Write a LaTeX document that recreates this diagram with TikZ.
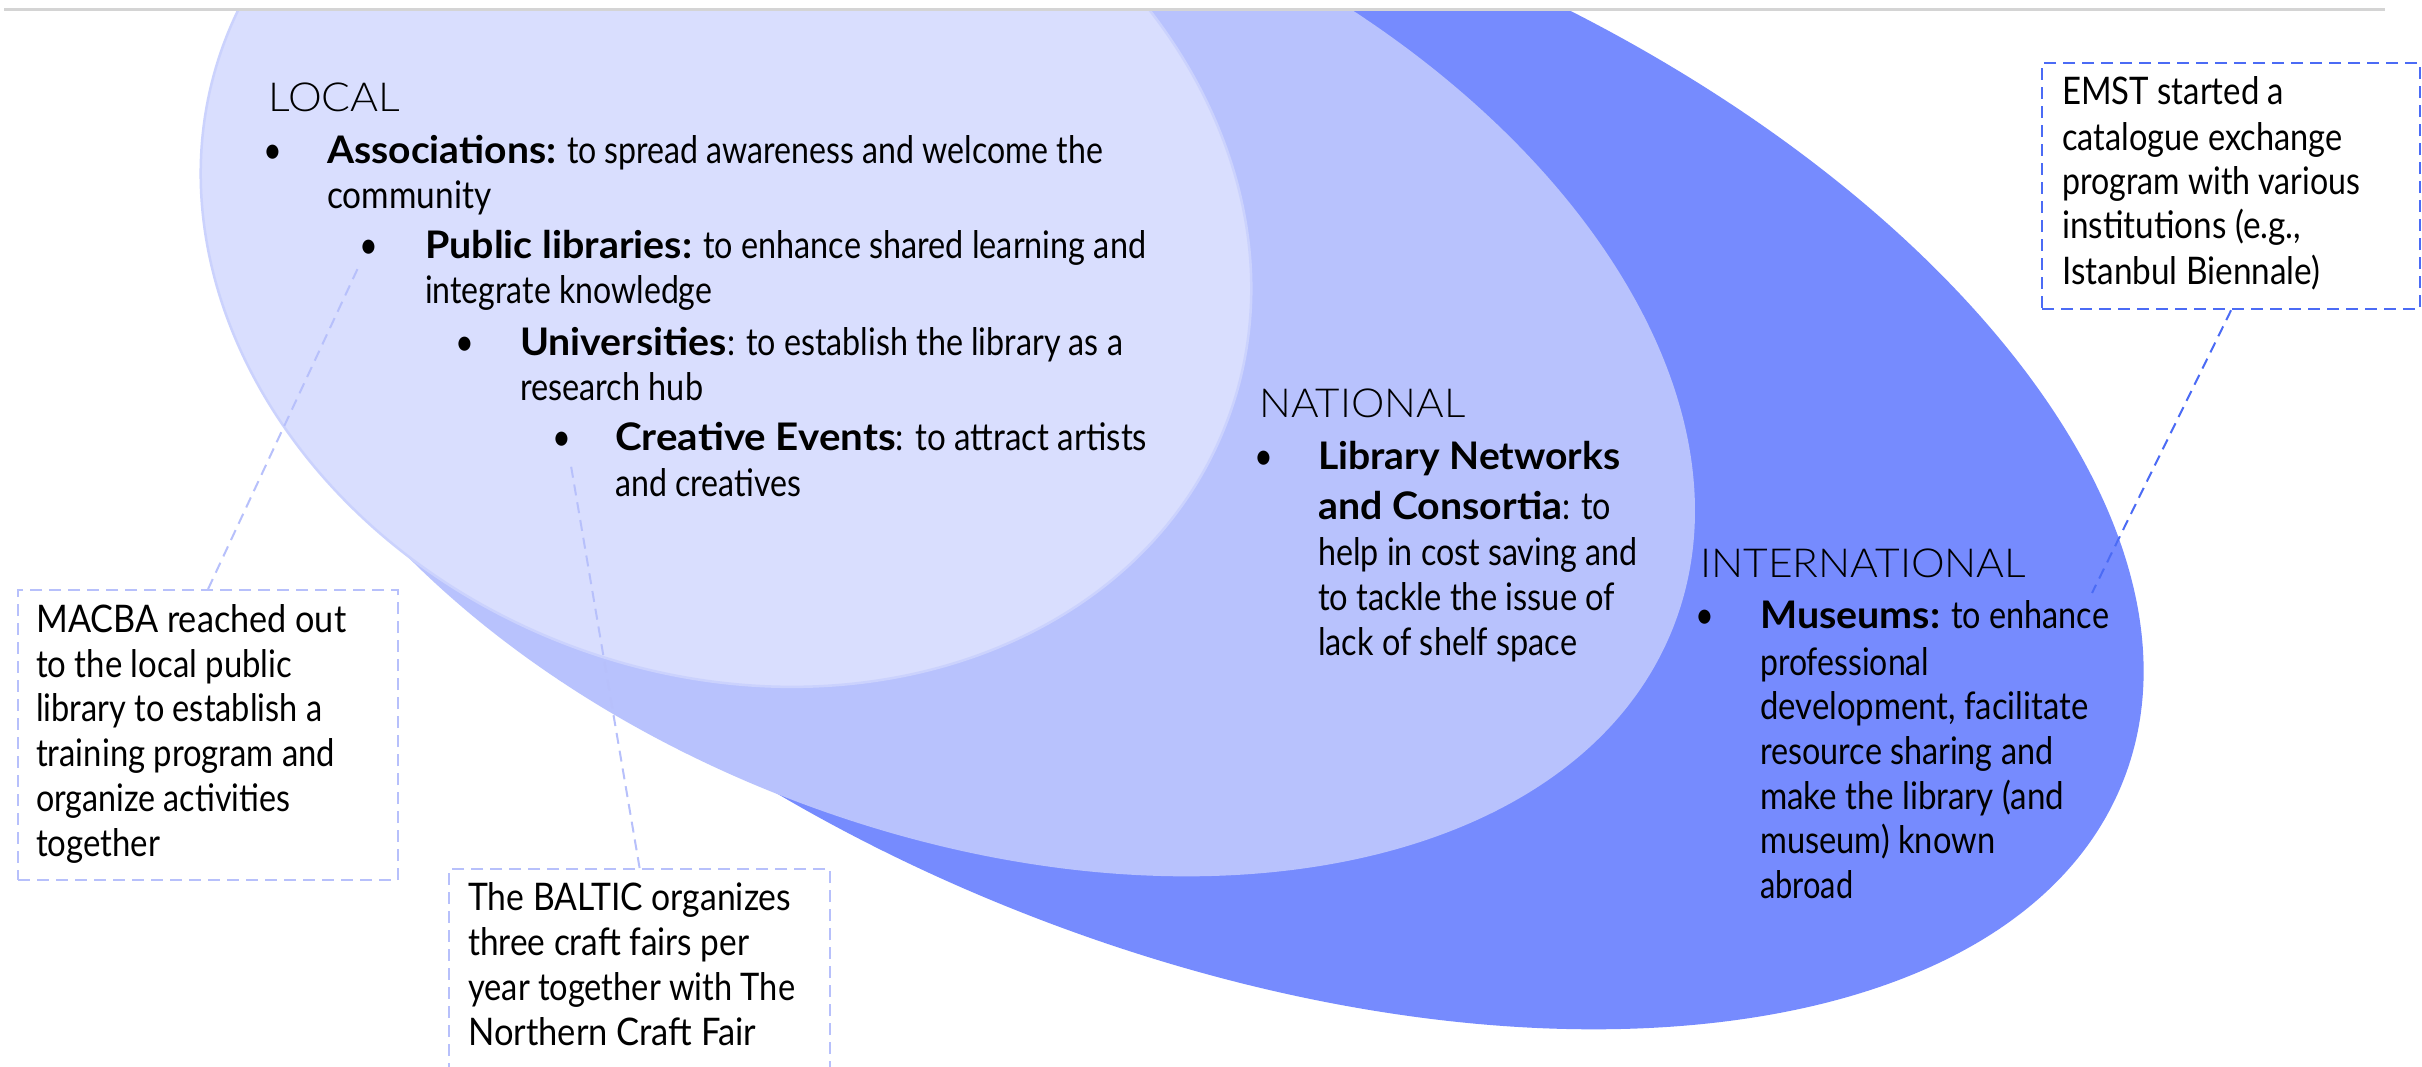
\documentclass[tikz,border=0pt]{standalone}
\usepackage{fontspec}
\usepackage{graphicx}
\setmainfont{Lato}
\newfontfamily\regfam{Lato}[FakeStretch=0.855]
\newfontfamily\boldfam{Lato}[FakeStretch=1.04]
\newfontfamily\headfam{Lato Light}[FakeStretch=1.03]
\definecolor{localfill}{RGB}{217,222,254}
\definecolor{localedge}{RGB}{203,210,253}
\definecolor{natfill}{RGB}{184,194,253}
\definecolor{intlfill}{RGB}{118,139,254}
\definecolor{softlink}{RGB}{183,192,251}
\definecolor{bluelink}{RGB}{75,107,245}
\definecolor{rulegray}{RGB}{212,212,212}
\newcommand\kw[1]{{\boldfam\bfseries #1}}
% set a line of text to a given width (in pt) by scaling it horizontally
\newsavebox\fitbox
\newdimen\fitlen
\newcommand\fitline[2]{%
  \sbox\fitbox{#2}\fitlen=\wd\fitbox
  \edef\fitratio{\fpeval{round((#1)/\fitlen,4)}}%
  \scalebox{\fitratio}[1]{\usebox\fitbox}}

\begin{document}
\begin{tikzpicture}[x=1pt,y=-1pt,
  ln/.style={anchor=base west, inner sep=0pt, font=\regfam\fontsize{38}{45}\selectfont},
  head/.style={anchor=base west, inner sep=0pt, font=\headfam\fontsize{40}{48}\selectfont},
  bul/.style={anchor=base, inner sep=0pt, font=\regfam\fontsize{38}{45}\selectfont},
  noteL/.style={draw=softlink, line width=2.2pt, dash pattern=on 12pt off 7pt, anchor=north west, inner sep=0pt},
  noteB/.style={noteL, draw=bluelink},
  linkL/.style={draw=softlink, line width=2pt, dash pattern=on 11pt off 7pt},
  linkB/.style={linkL, draw=bluelink},
]
\useasboundingbox (0,0) rectangle (2422,1067);
\clip (0,0) rectangle (2422,1067);
\fill[white] (0,0) rectangle (2422,1067);

% thin rule along the top edge
\draw[rulegray, line width=3pt] (4,10) -- (2385,10);

% the three nested scopes, cut off at the top
\begin{scope}
  \clip (0,12) rectangle (2422,1067);
  \fill[intlfill, rotate around={-21.3:(1219,427)}] (1219,427) ellipse [x radius=971, y radius=524];
  \fill[natfill, rotate around={-21.3:(960,348)}] (960,348) ellipse [x radius=766, y radius=482];
  \filldraw[fill=localfill, draw=localedge, line width=2.5pt, rotate around={-20.8:(726,231)}] (726,231) ellipse [x radius=536, y radius=443];
\end{scope}

% LOCAL
\node[head] (localhead) at (268,112) {\fitline{132}{LOCAL}};
\node[bul] (b-assoc) at (273,164) {•};
\node[ln] (assoc-1) at (327,164) {\fitline{776}{\kw{Associations:} to spread awareness and welcome the}};
\node[ln] (assoc-2) at (327,209) {\fitline{164}{community}};
\node[bul] (b-public) at (369,259) {•};
\node[ln] (public-1) at (425,259) {\fitline{721}{\kw{Public libraries:} to enhance shared learning and}};
\node[ln] (public-2) at (425,304) {\fitline{287}{integrate knowledge}};
\node[bul] (b-univ) at (465,355) {•};
\node[ln] (univ-1) at (520,355) {\fitline{603}{\kw{Universities}: to establish the library as a}};
\node[ln] (univ-2) at (520,400) {\fitline{183}{research hub}};
\node[bul] (b-events) at (562,450) {•};
\node[ln] (events-1) at (615,450) {\fitline{532}{\kw{Creative Events}: to attract artists}};
\node[ln] (events-2) at (615,496) {\fitline{186}{and creatives}};

% NATIONAL
\node[head] (nathead) at (1259,417) {\fitline{206}{NATIONAL}};
\node[bul] (b-nets) at (1264,469) {•};
\node[ln] (nets-1) at (1318,469) {\fitline{302}{\kw{Library Networks}}};
\node[ln] (nets-2) at (1318,519) {\fitline{293}{\kw{and Consortia}: to}};
\node[ln] (nets-3) at (1318,565) {\fitline{319}{help in cost saving and}};
\node[ln] (nets-4) at (1318,610) {\fitline{297}{to tackle the issue of}};
\node[ln] (nets-5) at (1318,655) {\fitline{259}{lack of shelf space}};

% INTERNATIONAL
\node[head] (intlhead) at (1700,577) {\fitline{326}{INTERNATIONAL}};
\node[bul] (b-mus) at (1705,628) {•};
\node[ln] (mus-1) at (1760,628) {\fitline{349}{\kw{Museums:} to enhance}};
\node[ln] (mus-2) at (1760,675) {\fitline{169}{professional}};
\node[ln] (mus-3) at (1760,719) {\fitline{328}{development, facilitate}};
\node[ln] (mus-4) at (1760,764) {\fitline{293}{resource sharing and}};
\node[ln] (mus-5) at (1760,809) {\fitline{304}{make the library (and}};
\node[ln] (mus-6) at (1760,853) {\fitline{235}{museum) known}};
\node[ln] (mus-7) at (1760,898) {\fitline{93}{abroad}};

% example callouts
\node[noteB, minimum width=378pt, minimum height=246pt] (emst) at (2041,62) {};
\node[ln] (emst-1) at (2062,105) {\fitline{222}{EMST started a}};
\node[ln] (emst-2) at (2062,151) {\fitline{280}{catalogue exchange}};
\node[ln] (emst-3) at (2062,195) {\fitline{298}{program with various}};
\node[ln] (emst-4) at (2062,239) {\fitline{239}{institutions (e.g.,}};
\node[ln] (emst-5) at (2062,285) {\fitline{258}{Istanbul Biennale)}};

\node[noteL, minimum width=380pt, minimum height=290pt] (macba) at (17,589) {};
\node[ln] (macba-1) at (36,632) {\fitline{310}{MACBA reached out}};
\node[ln] (macba-2) at (36,677) {\fitline{256}{to the local public}};
\node[ln] (macba-3) at (36,721) {\fitline{286}{library to establish a}};
\node[ln] (macba-4) at (36,766) {\fitline{299}{training program and}};
\node[ln] (macba-5) at (36,811) {\fitline{254}{organize activities}};
\node[ln] (macba-6) at (36,856) {\fitline{124}{together}};

\node[noteL, minimum width=381pt, minimum height=260pt] (baltic) at (448,868) {};
\node[ln] (baltic-1) at (468,910) {\fitline{323}{The BALTIC organizes}};
\node[ln] (baltic-2) at (468,955) {\fitline{281}{three craft fairs per}};
\node[ln] (baltic-3) at (468,1000) {\fitline{327}{year together with The}};
\node[ln] (baltic-4) at (468,1045) {\fitline{288}{Northern Craft Fair}};

% leader lines
\coordinate (macba-tip) at (358,268);
\coordinate (baltic-tip) at (570,460);
\coordinate (emst-tip) at (2092,593);
\draw[linkL] (macba.north) -- (macba-tip);
\draw[linkL] (baltic.north) -- (baltic-tip);
\draw[linkB] (emst.south) -- (emst-tip);
\end{tikzpicture}
\end{document}
